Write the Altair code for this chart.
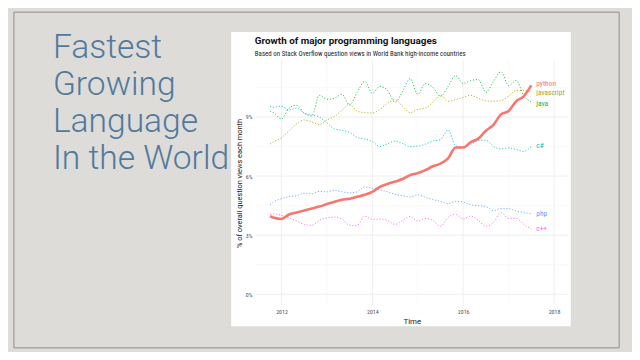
import altair as alt
import pandas as pd

# ---------------- data ----------------
dates = ["2011-10", "2011-11", "2012-01", "2012-03", "2012-05", "2012-07", "2012-09", "2012-11",
         "2013-01", "2013-03", "2013-05", "2013-07", "2013-09", "2013-11", "2014-01", "2014-03",
         "2014-05", "2014-07", "2014-09", "2014-11", "2015-01", "2015-03", "2015-05", "2015-07",
         "2015-09", "2015-11", "2016-01", "2016-03", "2016-05", "2016-07", "2016-09", "2016-11",
         "2017-01", "2017-03", "2017-05", "2017-07"]

python = [3.97, 3.88, 3.82, 4.05, 4.15, 4.25, 4.35, 4.45, 4.58, 4.7, 4.8, 4.85, 4.95, 5.05, 5.2, 5.45,
          5.6, 5.72, 5.85, 6.05, 6.15, 6.3, 6.5, 6.63, 6.9, 7.45, 7.45, 7.72, 7.9, 8.3, 8.6, 9.13,
          9.3, 9.8, 10.05, 10.6]
javascript = [7.63, 7.75, 7.95, 8.3, 8.65, 8.85, 8.75, 8.62, 8.85, 9.02, 9.35, 9.65, 9.3, 9.22, 9.2, 9.38,
              9.7, 9.88, 9.55, 9.22, 9.38, 9.45, 9.75, 10.1, 9.8, 9.88, 10.0, 10.1, 9.95, 9.82, 9.8, 9.83,
              10.05, 10.35, 10.35, 10.27]
java = [9.3, 9.2, 8.9, 9.45, 9.6, 9.2, 9.05, 10.1, 9.9, 9.95, 10.15, 9.6, 10.25, 10.8, 10.2, 10.55,
        10.35, 9.75, 10.3, 10.95, 10.15, 10.7, 10.5, 10.05, 10.55, 11.1, 10.7, 10.85, 10.9, 10.25, 10.8, 11.3,
        10.6, 10.85, 10.1, 9.75]
csharp = [9.55, 9.5, 9.55, 9.35, 9.45, 9.2, 9.1, 9.0, 8.7, 8.4, 8.32, 8.22, 7.97, 7.88, 7.75, 7.5,
          7.63, 7.78, 7.65, 7.5, 7.52, 7.62, 7.78, 7.85, 8.35, 7.55, 7.47, 7.6, 7.8, 7.82, 7.5, 7.38,
          7.43, 7.35, 7.25, 7.5]
php = [4.55, 4.7, 4.85, 4.95, 5.0, 5.12, 5.1, 5.22, 5.2, 5.28, 5.2, 5.15, 5.2, 5.45, 5.38, 5.3,
       5.2, 5.08, 5.0, 4.95, 5.05, 4.92, 4.8, 4.72, 4.6, 4.72, 4.68, 4.55, 4.5, 4.45, 4.25, 4.35,
       4.35, 4.22, 4.15, 4.08]
cpp = [4.05, 4.08, 4.0, 3.88, 3.72, 3.55, 3.5, 3.75, 3.88, 3.92, 3.82, 3.5, 3.5, 3.97, 3.8, 3.82,
       3.75, 3.55, 3.75, 3.95, 3.72, 3.85, 3.75, 3.45, 3.9, 4.05, 3.82, 3.97, 3.75, 3.45, 3.65, 4.15,
       3.85, 3.85, 3.55, 3.3]

langs = ["python", "javascript", "java", "c#", "php", "c++"]
series = [python, javascript, java, csharp, php, cpp]
colors = ["#F8766D", "#B79F00", "#00BA38", "#00BFC4", "#619CFF", "#F564E3"]
label_y = [10.68, 10.2, 9.68, 7.5, 4.05, 3.33]

y_major = [0, 3, 6, 9]
y_minor = [1.5, 4.5, 7.5, 10.5]
x_major = [2012, 2014, 2016, 2018]
x_minor = [2013, 2015, 2017]

chart_title = "Growth of major programming languages"
chart_subtitle = "Based on Stack Overflow question views in World Bank high-income countries"
slide_title = ["Fastest", "Growing", "Language", "In the World"]

# ---------------- tables ----------------
def dec_year(d):
    y, m = d.split("-")
    return int(y) + (int(m) - 1) / 12

rows = []
for lang, vals in zip(langs, series):
    for d, v in zip(dates, vals):
        rows.append({"lang": lang, "t": dec_year(d), "v": v})
df = pd.DataFrame(rows)
labels_df = pd.DataFrame({"lang": langs, "t": [dec_year(dates[-1])] * len(langs), "v": label_y})

FONT = "Roboto Condensed, Liberation Sans Narrow, Roboto, sans-serif"
FONT2 = "Roboto, Liberation Sans, sans-serif"

xscale = alt.Scale(domain=[2011.435, 2018.304], nice=False, zero=False)
yscale = alt.Scale(domain=[-0.565, 11.865], nice=False, zero=False)
xaxis = alt.Axis(values=x_major, format="d", title="Time", grid=False, domain=False, ticks=False,
                 labelFontSize=6, labelColor="#4d4d4d", labelPadding=3, labelFont=FONT,
                 titleFont=FONT2, titleFontSize=8, titleFontWeight="normal", titleColor="#222",
                 titlePadding=3, zindex=1)
yaxis = alt.Axis(values=y_major, labelExpr="datum.value + '%'", title="% of overall question views each month",
                 grid=False, domain=False, ticks=False, labelFontSize=6, labelColor="#4d4d4d",
                 labelPadding=4, labelFont=FONT, titleFont=FONT2, titleFontSize=7.5,
                 titleFontWeight="normal", titleColor="#222", titlePadding=2, zindex=1)

def X(f):
    return alt.X(f, type="quantitative", scale=xscale, axis=xaxis)

def Y(f):
    return alt.Y(f, type="quantitative", scale=yscale, axis=yaxis)

color = alt.Color("lang:N", scale=alt.Scale(domain=langs, range=colors), legend=None)
one = pd.DataFrame({"k": [0]})

border = alt.Chart(one).mark_rect(filled=False, stroke="#8c8c8c", strokeWidth=1).encode(
    x=alt.value(-245), x2=alt.value(368), y=alt.value(-49), y2=alt.value(291))
panel = alt.Chart(one).mark_rect(fill="white").encode(
    x=alt.value(-25), x2=alt.value(319), y=alt.value(-29), y2=alt.value(269))

gy_major = alt.Chart(pd.DataFrame({"v": y_major})).mark_rule(color="#e9e9e9", strokeWidth=0.8).encode(y=Y("v"))
gy_minor = alt.Chart(pd.DataFrame({"v": y_minor})).mark_rule(color="#f2f2f2", strokeWidth=0.5).encode(y=Y("v"))
gx_major = alt.Chart(pd.DataFrame({"t": x_major})).mark_rule(color="#e9e9e9", strokeWidth=0.8).encode(x=X("t"))
gx_minor = alt.Chart(pd.DataFrame({"t": x_minor})).mark_rule(color="#f2f2f2", strokeWidth=0.5).encode(x=X("t"))

dotted = alt.Chart(df[df.lang != "python"]).mark_line(
    strokeWidth=1.0, strokeDash=[1.2, 1.8], interpolate="monotone", opacity=0.85).encode(
    x=X("t"), y=Y("v"), color=color)
pyline = alt.Chart(df[df.lang == "python"]).mark_line(
    strokeWidth=2.6, interpolate="monotone").encode(x=X("t"), y=Y("v"), color=color)

end_labels = alt.Chart(labels_df).mark_text(
    align="left", baseline="middle", dx=5, fontSize=7.5, font=FONT).encode(
    x=X("t"), y=Y("v"), text="lang:N", color=color)

title_t = alt.Chart(pd.DataFrame({"s": [chart_title]})).mark_text(
    align="left", baseline="alphabetic", fontSize=10, fontWeight="bold", font=FONT2, color="#111").encode(
    x=alt.value(-1), y=alt.value(-17), text="s:N")
subtitle_t = alt.Chart(pd.DataFrame({"s": [chart_subtitle]})).mark_text(
    align="left", baseline="alphabetic", fontSize=7, font=FONT, color="#222").encode(
    x=alt.value(-1), y=alt.value(-4.5), text="s:N")
slide_t = alt.Chart(one).mark_text(
    align="left", baseline="alphabetic", fontSize=34, fontWeight=300, font=FONT2,
    color="#52799c", lineHeight=37.5).encode(
    x=alt.value(-205.5), y=alt.value(-2.5), text=alt.value(slide_title))

chart = alt.layer(
    border, panel, gx_minor, gy_minor, gx_major, gy_major, dotted, pyline, end_labels,
    title_t, subtitle_t, slide_t
).properties(
    width=316, height=248, background="#dddcd9",
    padding={"left": 251, "top": 51, "right": 65, "bottom": 45},
    autosize=alt.AutoSizeParams(type="none"),
).configure_view(stroke=None)

chart.save("out.html", embed_options={"renderer": "svg", "actions": False})
